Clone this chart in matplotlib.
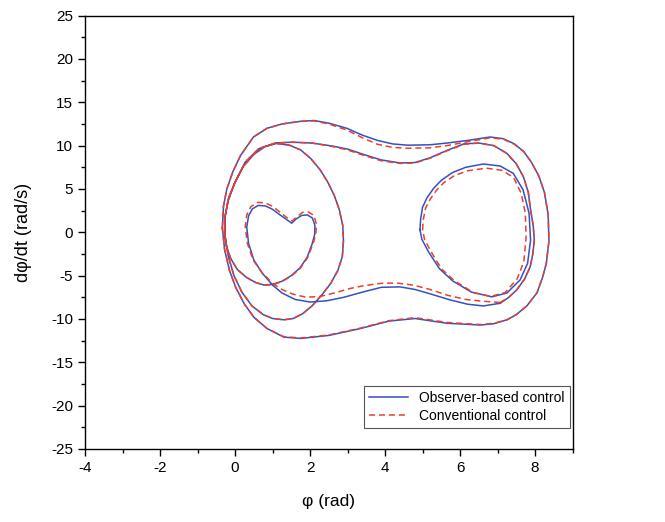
import matplotlib
matplotlib.use("Agg")
import matplotlib.pyplot as plt
from matplotlib.ticker import MultipleLocator

plt.rcParams['font.family'] = ['Liberation Sans', 'DejaVu Sans']
plt.rcParams['axes.unicode_minus'] = False

# outer loop
outer_phi = [-0.34, -0.31, -0.22, -0.06, 0.15, 0.49, 0.85, 1.25, 1.73, 2.1, 2.5, 2.98, 3.4, 3.8,
             4.2, 4.6, 5.2, 5.65, 6.2, 6.8, 7.15, 7.45, 7.7, 7.9, 8.1, 8.25, 8.35, 8.37, 8.3, 8.2,
             8.05, 7.78, 7.5, 7.25, 6.9, 6.55, 5.65, 4.8, 4.1, 3.35, 2.5, 1.75, 1.3, 0.85, 0.5, 0.25,
             0.02, -0.15, -0.28, -0.34]
outer_rate = [0.5, 3.0, 5.0, 7.0, 8.9, 11.0, 12.0, 12.5, 12.8, 12.9, 12.6, 12.0, 11.2, 10.6,
              10.2, 10.05, 10.1, 10.3, 10.6, 11.0, 10.8, 10.2, 9.3, 8.1, 6.5, 4.6, 2.0, -1.0, -3.6,
              -5.2, -7.0, -8.5, -9.5, -10.1, -10.55, -10.7, -10.5, -9.95, -10.25, -11.1, -11.9,
              -12.25, -12.1, -11.1, -9.8, -8.3, -6.4, -4.4, -2.0, 0.5]
outer_phi_conv = [-0.34, -0.31, -0.22, -0.06, 0.15, 0.49, 0.85, 1.25, 1.73, 2.1, 2.5, 2.98, 3.4, 3.8,
                  4.2, 4.6, 5.2, 5.65, 6.2, 6.8, 7.15, 7.45, 7.7, 7.9, 8.1, 8.25, 8.35, 8.37, 8.3, 8.2,
                  8.05, 7.78, 7.5, 7.25, 6.9, 6.55, 5.65, 4.8, 4.1, 3.35, 2.5, 1.75, 1.3, 0.85, 0.5,
                  0.25, 0.02, -0.15, -0.28, -0.34]
outer_rate_conv = [0.5, 3.0, 5.0, 7.0, 8.9, 11.0, 12.0, 12.5, 12.8, 12.85, 12.5, 11.8, 10.9, 10.15,
                   9.8, 9.7, 9.75, 10.0, 10.45, 10.9, 10.75, 10.15, 9.3, 8.1, 6.5, 4.6, 2.0, -1.0,
                   -3.6, -5.2, -7.0, -8.5, -9.5, -10.1, -10.5, -10.65, -10.4, -9.85, -10.2, -11.05,
                   -11.85, -12.2, -12.05, -11.1, -9.8, -8.3, -6.4, -4.4, -2.0, 0.5]

# main trajectory: lower neck -> heart -> ellipse -> upper neck -> right arc
main_phi = [7.07, 6.62, 6.2, 5.73, 5.2, 4.8, 4.4, 3.9, 3.4, 2.9, 2.45, 2.0, 1.6, 1.25, 1.0, 0.72,
            0.5, 0.36, 0.31, 0.36, 0.46, 0.62, 0.8, 0.98, 1.2, 1.38, 1.51, 1.63, 1.78, 1.93, 2.06,
            2.13, 2.12, 2.05, 1.92, 1.73, 1.5, 1.25, 1.0, 0.78, 0.55, 0.3, 0.06, -0.12, -0.23, -0.28,
            -0.27, -0.18, -0.02, 0.22, 0.5, 0.8, 1.1, 1.45, 1.75, 2.02, 2.27, 2.47, 2.64, 2.78, 2.87,
            2.89, 2.86, 2.74, 2.55, 2.3, 2.05, 1.8, 1.55, 1.3, 1.0, 0.75, 0.45, 0.18, -0.03, -0.18,
            -0.27, -0.28, -0.18, 0.01, 0.27, 0.63, 1.07, 1.52, 2.05, 2.6, 3.0, 3.45, 3.9, 4.4, 4.8,
            5.2, 5.65, 6.1, 6.5, 6.9, 7.25, 7.5, 7.69, 7.82, 7.88, 7.95, 7.98, 7.94, 7.87, 7.72,
            7.51, 7.3, 7.07]
main_rate = [-8.19, -8.5, -8.3, -7.8, -7.1, -6.6, -6.3, -6.35, -6.9, -7.5, -7.9, -8.05, -7.75, -7.0,
             -6.1, -4.7, -3.2, -1.3, 0.6, 1.9, 2.7, 3.1, 3.05, 2.7, 2.0, 1.45, 1.05, 1.55, 1.95, 2.0,
             1.65, 0.8, -0.3, -1.4, -2.9, -4.1, -5.0, -5.65, -6.0, -6.1, -5.8, -5.2, -4.3, -3.0, -1.6,
             0.0, 1.8, 3.7, 5.6, 7.6, 9.0, 9.9, 10.25, 10.05, 9.5, 8.5, 7.2, 5.8, 4.3, 2.6, 0.8,
             -1.0, -2.8, -4.4, -5.9, -7.3, -8.5, -9.4, -9.95, -10.1, -9.95, -9.5, -8.5, -6.9, -5.0,
             -2.8, -0.5, 1.5, 3.9, 5.9, 8.1, 9.65, 10.3, 10.4, 10.3, 9.95, 9.6, 8.95, 8.35, 8.0,
             8.05, 8.6, 9.45, 10.2, 10.3, 10.0, 9.1, 7.9, 6.4, 4.6, 2.6, 0.8, -0.9, -2.5, -3.97,
             -5.4, -6.65, -7.5, -8.19]
main_phi_conv = [7.07, 6.6, 6.15, 5.65, 5.2, 4.76, 4.3, 3.87, 3.45, 3.05, 2.65, 2.27, 1.9, 1.55,
                 1.25, 1.0, 0.72, 0.48, 0.33, 0.27, 0.31, 0.42, 0.6, 0.8, 1.0, 1.2, 1.38, 1.52, 1.65,
                 1.8, 1.95, 2.1, 2.17, 2.15, 2.07, 1.93, 1.74, 1.5, 1.25, 1.0, 0.78, 0.55, 0.3, 0.06,
                 -0.12, -0.23, -0.28, -0.27, -0.18, -0.02, 0.22, 0.5, 0.8, 1.1, 1.45, 1.75, 2.02,
                 2.27, 2.47, 2.64, 2.78, 2.87, 2.89, 2.86, 2.74, 2.55, 2.3, 2.05, 1.8, 1.55, 1.3, 1.0,
                 0.75, 0.45, 0.18, -0.03, -0.18, -0.27, -0.28, -0.18, 0.01, 0.27, 0.63, 1.07, 1.52,
                 2.05, 2.6, 3.0, 3.45, 3.9, 4.4, 4.8, 5.2, 5.65, 6.1, 6.5, 6.9, 7.25, 7.5, 7.69, 7.82,
                 7.88, 7.95, 7.98, 7.94, 7.87, 7.72, 7.51, 7.3, 7.07]
main_rate_conv = [-8.1, -7.95, -7.75, -7.25, -6.6, -6.1, -5.85, -5.9, -6.15, -6.5, -7.0, -7.4, -7.5,
                  -7.15, -6.6, -5.9, -4.65, -3.2, -1.3, 0.6, 2.0, 2.95, 3.45, 3.4, 3.0, 2.3, 1.7, 1.3,
                  1.8, 2.3, 2.35, 1.95, 0.9, -0.3, -1.45, -2.95, -4.15, -5.05, -5.7, -6.05, -6.1, -5.8,
                  -5.2, -4.3, -3.0, -1.6, 0.0, 1.8, 3.7, 5.6, 7.6, 9.0, 9.9, 10.25, 10.05, 9.5, 8.5,
                  7.2, 5.8, 4.3, 2.6, 0.8, -1.0, -2.8, -4.4, -5.9, -7.3, -8.5, -9.4, -9.95, -10.1,
                  -9.95, -9.5, -8.5, -6.9, -5.0, -2.8, -0.5, 1.5, 3.9, 5.9, 8.1, 9.65, 10.3, 10.4,
                  10.3, 9.9, 9.5, 8.85, 8.25, 7.95, 8.0, 8.55, 9.4, 10.15, 10.3, 10.0, 9.1, 7.9, 6.4,
                  4.6, 2.6, 0.8, -0.9, -2.5, -3.97, -5.4, -6.65, -7.5, -8.1]

# inner loop on the right
inner_phi = [4.93, 4.95, 5.0, 5.12, 5.3, 5.5, 5.8, 6.15, 6.62, 7.07, 7.42, 7.68, 7.84, 7.88, 7.8,
             7.6, 7.25, 6.85, 6.3, 5.8, 5.45, 5.15, 4.98, 4.93]
inner_rate = [0.3, 1.6, 2.9, 4.0, 5.1, 6.0, 6.9, 7.5, 7.88, 7.65, 6.8, 4.9, 2.2, -0.9, -3.6,
              -5.5, -7.0, -7.45, -6.9, -5.6, -4.2, -2.2, -0.8, 0.3]
inner_phi_conv = [5.0, 5.02, 5.08, 5.2, 5.37, 5.56, 5.85, 6.2, 6.7, 7.12, 7.43, 7.63, 7.74, 7.76,
                  7.7, 7.52, 7.2, 6.82, 6.35, 5.85, 5.5, 5.22, 5.05, 5.0]
inner_rate_conv = [0.3, 1.5, 2.8, 3.8, 4.85, 5.7, 6.55, 7.1, 7.4, 7.15, 6.3, 4.5, 2.2, -0.6, -3.4,
                   -5.4, -6.95, -7.4, -6.95, -5.6, -4.2, -2.2, -0.8, 0.3]

blue = '#3550c0'
red = '#e8402c'
dash = (0, (4, 2.5))

fig = plt.figure(figsize=(6.65, 5.22), dpi=100)
ax = fig.add_axes([0.128, 0.14, 0.733, 0.83])

ax.plot(outer_phi, outer_rate, color=blue, lw=1.1, label='Observer-based control')
ax.plot(main_phi, main_rate, color=blue, lw=1.1)
ax.plot(inner_phi, inner_rate, color=blue, lw=1.1)
ax.plot(outer_phi_conv, outer_rate_conv, color=red, lw=1.1, ls=dash, label='Conventional control')
ax.plot(main_phi_conv, main_rate_conv, color=red, lw=1.1, ls=dash)
ax.plot(inner_phi_conv, inner_rate_conv, color=red, lw=1.1, ls=dash)

ax.set_xlim(-4, 9)
ax.set_ylim(-25, 25)
ax.xaxis.set_major_locator(MultipleLocator(2))
ax.xaxis.set_minor_locator(MultipleLocator(1))
ax.yaxis.set_major_locator(MultipleLocator(5))
ax.yaxis.set_minor_locator(MultipleLocator(2.5))
ax.tick_params(which='major', direction='out', length=5, width=1, labelsize=11)
ax.tick_params(which='minor', direction='out', length=3, width=1)
for s in ax.spines.values():
    s.set_linewidth(1.0)

ax.set_xlabel('φ (rad)', fontsize=12.5, labelpad=14)
ax.set_ylabel('dφ/dt (rad/s)', fontsize=13, labelpad=14)

leg = ax.legend(loc='lower right', bbox_to_anchor=(0.995, 0.048), borderaxespad=0,
                fancybox=False, framealpha=1, edgecolor='#555555', fontsize=10,
                handlelength=2.8, labelspacing=0.25, borderpad=0.4)
leg.get_frame().set_linewidth(0.8)

fig.savefig('out.png', dpi=100)
